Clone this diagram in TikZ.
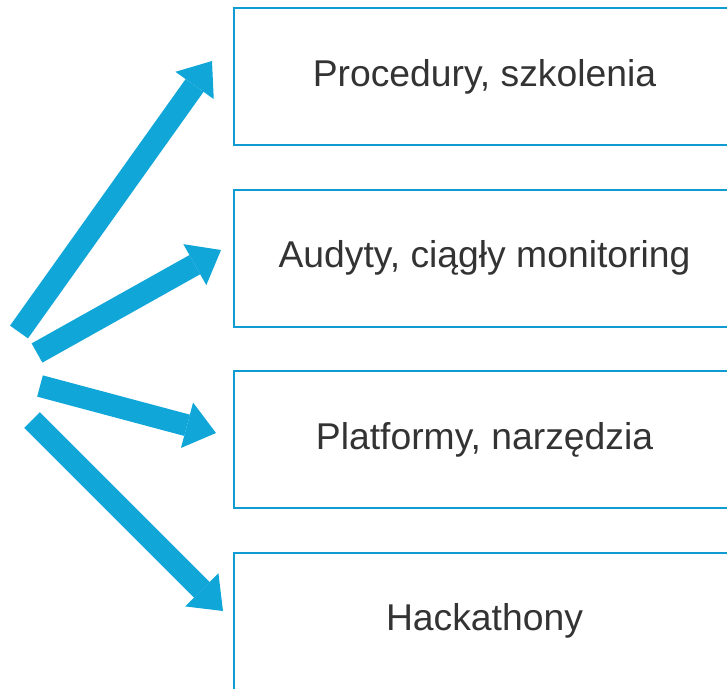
\documentclass[tikz,border=0pt]{standalone}
\usepackage{fontspec}
\setmainfont{Liberation Sans}
\usepackage{tikz}
\usetikzlibrary{arrows.meta, positioning}
\definecolor{arrowblue}{RGB}{16,166,216}
\definecolor{boxblue}{RGB}{14,156,210}
\definecolor{textgray}{RGB}{51,51,51}

\begin{document}
\begin{tikzpicture}[x=1pt,y=-1pt,node distance=181.6pt,on grid]
    \tikzstyle{topic}=[shape=rectangle,draw=boxblue,line width=2pt,minimum width=501pt,minimum height=137pt,text=textgray,font=\fontsize{37.3}{44}\selectfont]
    \tikzstyle{bigarrow}=[color=arrowblue,line width=22pt,-{Triangle[width=47pt,length=30pt,line width=0pt]}]

    \useasboundingbox (0,0) rectangle (727,688);
    \clip (0,0) rectangle (727,688);

    \node[topic] (P1) at (484.5,76.5) {Procedury, szkolenia};
    \node[topic,below of=P1] (P2) {Audyty, ciągły monitoring};
    \node[topic,below of=P2] (P3) {Platformy, narzędzia};
    \node[topic,below of=P3] (P4) {Hackathony};

    % tails and tips of the arrows
    \coordinate (T1) at (19,332);
    \coordinate (H1) at (212,61);
    \coordinate (T2) at (37,353);
    \coordinate (H2) at (221,250);
    \coordinate (T3) at (40,386);
    \coordinate (H3) at (216,433);
    \coordinate (T4) at (32,420);
    \coordinate (H4) at (223,611);

    \path
    (T1) edge[bigarrow] (H1)
    (T2) edge[bigarrow] (H2)
    (T3) edge[bigarrow] (H3)
    (T4) edge[bigarrow] (H4)
    ;

  \end{tikzpicture}
\end{document}
